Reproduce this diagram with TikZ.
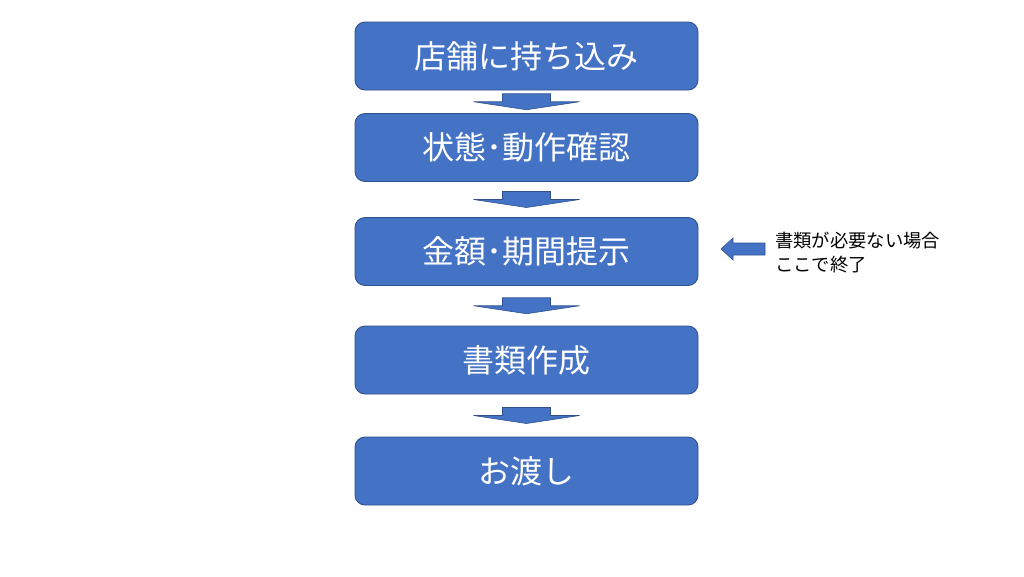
\documentclass[tikz,border=0pt]{standalone}
\usepackage{fontspec}
\newfontfamily\jp{Noto Sans CJK JP}
\usetikzlibrary{calc}
\definecolor{boxblue}{HTML}{4472C4}
\definecolor{edgeblue}{HTML}{2F528F}
\tikzset{
  stepbox/.style={draw=edgeblue, line width=0.9pt, fill=boxblue, rounded corners=10pt,
    minimum width=343pt, minimum height=68pt, text=white, font=\jp\fontsize{32}{36}\selectfont, inner sep=0pt},
  blockarrow/.style={draw=edgeblue, line width=0.6pt, fill=boxblue},
  note/.style={font=\jp\fontsize{18.3}{24}\selectfont, align=left, anchor=west, inner sep=0pt}
}
\begin{document}
\begin{tikzpicture}[x=1pt,y=-1pt]
\useasboundingbox (0,0) rectangle (1024,576);
\node[stepbox] (b1) at (526.5,56) {店舗に持ち込み};
\node[stepbox] (b2) at (526.5,147.5) {状態･動作確認};
\node[stepbox] (b3) at (526.5,251.5) {金額･期間提示};
\node[stepbox] (b4) at (526.5,360) {書類作成};
\node[stepbox] (b5) at (526.5,471) {お渡し};
\foreach \a/\b in {b1/b2,b2/b3,b3/b4,b4/b5}{
  \coordinate (m) at ($(\a.south)!0.5!(\b.north)$);
  \draw[blockarrow] ($(m)+(-24,-8)$) -- ($(m)+(24,-8)$) -- ($(m)+(24,0)$) -- ($(m)+(53,0)$)
    -- ($(m)+(0,8)$) -- ($(m)+(-53,0)$) -- ($(m)+(-24,0)$) -- cycle;
}
\node[note] (n) at (775,253) {書類が必要ない場合\\ここで終了};
\coordinate (t) at (721,249);
\draw[blockarrow] (t) -- ($(t)+(12,-11)$) -- ($(t)+(12,-6)$) -- ($(t)+(44,-6)$) -- ($(t)+(44,6)$)
  -- ($(t)+(12,6)$) -- ($(t)+(12,11)$) -- cycle;
\end{tikzpicture}
\end{document}
